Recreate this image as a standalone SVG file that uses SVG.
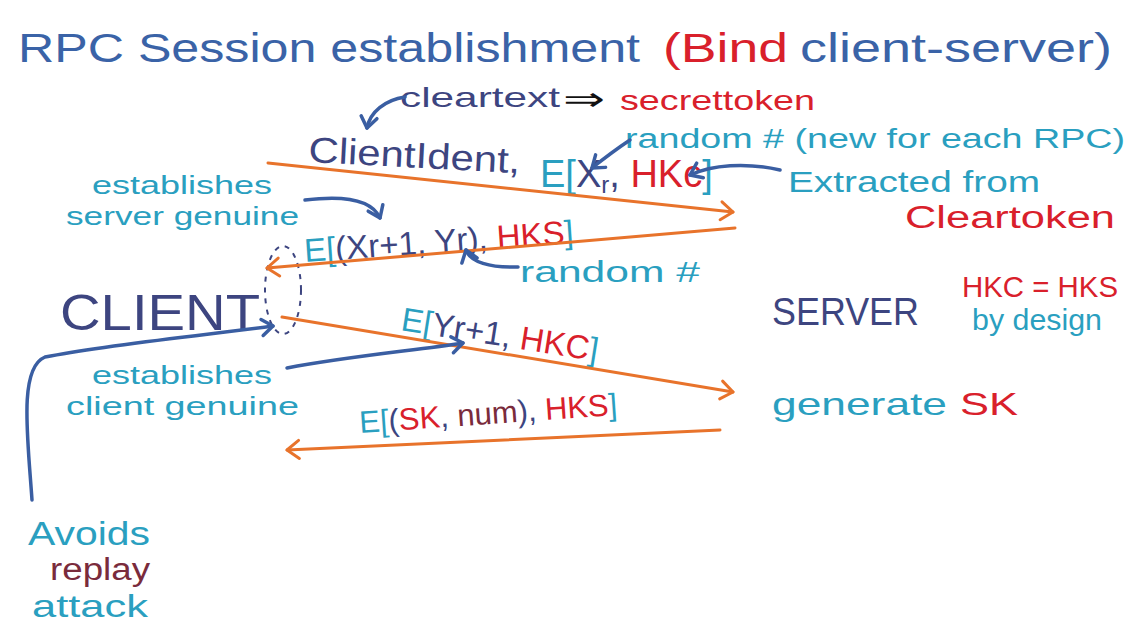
<svg xmlns="http://www.w3.org/2000/svg" width="1143" height="637" viewBox="0 0 1143 637">
<style>
text{font-family:"Liberation Sans","DejaVu Sans",sans-serif;}
.ttl{fill:#3a63a7;font-size:40px;}
.navy{fill:#3d4580;}
.teal{fill:#2a9fc0;}
.red{fill:#d9202b;}
.maroon{fill:#7a2b3c;}
.blk{fill:#111;}
.msg{fill:none;stroke:#e8732b;stroke-width:3;stroke-linecap:round;marker-end:url(#oh);}
.ann{fill:none;stroke:#3a5ea2;stroke-width:3.5;stroke-linecap:round;marker-end:url(#bh);}
</style>
<defs>
<marker id="oh" markerUnits="userSpaceOnUse" markerWidth="30" markerHeight="30" refX="15" refY="15" orient="auto" viewBox="0 0 30 30">
<path d="M3,6 L15,15 L3,24" fill="none" stroke="#e8732b" stroke-width="3" stroke-linecap="round" stroke-linejoin="round"/>
</marker>
<marker id="bh" markerUnits="userSpaceOnUse" markerWidth="30" markerHeight="30" refX="15" refY="15" orient="auto" viewBox="0 0 30 30">
<path d="M4,7 L15,15 L4,23" fill="none" stroke="#3a5ea2" stroke-width="3.5" stroke-linecap="round" stroke-linejoin="round"/>
</marker>
</defs>
<rect width="1143" height="637" fill="#fff"/>

<g id="title">
<text class="ttl" x="18" y="62" textLength="622" lengthAdjust="spacingAndGlyphs">RPC Session establishment</text>
<text class="red" x="663" y="62" font-size="40" textLength="125" lengthAdjust="spacingAndGlyphs">(Bind</text>
<text class="ttl" x="800" y="62" textLength="312" lengthAdjust="spacingAndGlyphs">client-server)</text>
</g>

<g id="cleartext">
<text class="navy" x="400" y="107" font-size="28" textLength="160" lengthAdjust="spacingAndGlyphs">cleartext</text>
<text class="blk" x="563" y="110" font-size="32" textLength="42" lengthAdjust="spacingAndGlyphs">⇒</text>
<text class="red" x="620" y="110" font-size="28" textLength="195" lengthAdjust="spacingAndGlyphs">secrettoken</text>
</g>

<g id="msg1-label">
<text class="navy" x="308" y="162" font-size="36" textLength="212" lengthAdjust="spacingAndGlyphs" transform="rotate(3 308 162)">ClientIdent,</text>
<text x="540" y="187" font-size="38"><tspan class="teal">E[</tspan><tspan class="navy">X</tspan><tspan class="navy" font-size="24" dy="6">r</tspan><tspan class="navy" dy="-6">, </tspan><tspan class="red">HKc</tspan><tspan class="teal">]</tspan></text>
</g>

<g id="random1">
<text class="teal" x="625" y="148" font-size="27" textLength="500" lengthAdjust="spacingAndGlyphs">random # (new for each RPC)</text>
</g>

<g id="extracted">
<text class="teal" x="788" y="192" font-size="29" textLength="252" lengthAdjust="spacingAndGlyphs">Extracted from</text>
<text class="red" x="905" y="228" font-size="31" textLength="210" lengthAdjust="spacingAndGlyphs">Cleartoken</text>
</g>

<g id="server-genuine">
<text class="teal" x="92" y="194" font-size="26" textLength="180" lengthAdjust="spacingAndGlyphs">establishes</text>
<text class="teal" x="66" y="225" font-size="26" textLength="233" lengthAdjust="spacingAndGlyphs">server genuine</text>
</g>

<g id="msg2-label" transform="rotate(-4 305 262)">
<text x="305" y="262" font-size="33"><tspan class="teal">E[</tspan><tspan class="navy">(Xr+1, Yr), </tspan><tspan class="red">HKS</tspan><tspan class="teal">]</tspan></text>
</g>

<g id="random2">
<text class="teal" x="520" y="282" font-size="30" textLength="180" lengthAdjust="spacingAndGlyphs">random #</text>
</g>

<g id="client">
<text class="navy" x="60" y="330" font-size="50" textLength="200" lengthAdjust="spacingAndGlyphs">CLIENT</text>
<ellipse cx="283" cy="290" rx="18" ry="44" fill="none" stroke="#3d4580" stroke-width="2" stroke-dasharray="5 6"/>
</g>

<g id="server">
<text class="navy" x="772" y="325" font-size="38" textLength="147" lengthAdjust="spacingAndGlyphs">SERVER</text>
</g>

<g id="hkc-hks">
<text class="red" x="962" y="297" font-size="29" textLength="156" lengthAdjust="spacingAndGlyphs">HKC = HKS</text>
<text class="teal" x="972" y="330" font-size="29" textLength="130" lengthAdjust="spacingAndGlyphs">by design</text>
</g>

<g id="msg3-label" transform="rotate(9 400 330)">
<text x="400" y="330" font-size="33"><tspan class="teal">E[</tspan><tspan class="navy">Yr+1, </tspan><tspan class="red">HKC</tspan><tspan class="teal">]</tspan></text>
</g>

<g id="client-genuine">
<text class="teal" x="92" y="384" font-size="26" textLength="180" lengthAdjust="spacingAndGlyphs">establishes</text>
<text class="teal" x="66" y="415" font-size="26" textLength="233" lengthAdjust="spacingAndGlyphs">client genuine</text>
</g>

<g id="generate">
<text class="teal" x="772" y="415" font-size="32" textLength="175" lengthAdjust="spacingAndGlyphs">generate</text>
<text class="red" x="960" y="415" font-size="32" textLength="58" lengthAdjust="spacingAndGlyphs">SK</text>
</g>

<g id="msg4-label" transform="rotate(-4 360 433)">
<text x="360" y="433" font-size="31"><tspan class="teal">E[</tspan><tspan class="navy">(</tspan><tspan class="red">SK</tspan><tspan class="navy">, </tspan><tspan class="maroon">num</tspan><tspan class="navy">), </tspan><tspan class="red">HKS</tspan><tspan class="teal">]</tspan></text>
</g>

<g id="avoids">
<text class="teal" x="28" y="545" font-size="33" textLength="122" lengthAdjust="spacingAndGlyphs">Avoids</text>
<text class="maroon" x="50" y="580" font-size="31" textLength="100" lengthAdjust="spacingAndGlyphs">replay</text>
<text class="teal" x="32" y="617" font-size="32" textLength="116" lengthAdjust="spacingAndGlyphs">attack</text>
</g>

<g id="connectors">
<path class="msg" d="M268,163 L733,212"/>
<path class="msg" d="M735,228 L267,268"/>
<path class="msg" d="M282,317 L733,392"/>
<path class="msg" d="M720,430 L287,450"/>
<path class="ann" d="M405,97 C385,100 370,112 367,128"/>
<path class="ann" d="M630,140 C615,150 602,160 592,168"/>
<path class="ann" d="M780,170 C745,162 712,165 690,175"/>
<path class="ann" d="M305,200 C345,195 372,200 380,218"/>
<path class="ann" d="M518,267 C490,268 470,262 466,250"/>
<path class="ann" d="M287,368 C350,356 420,350 463,343"/>
<path class="ann" d="M32,500 C28,440 18,368 45,357 C110,344 200,336 273,326"/>
</g>
</svg>
